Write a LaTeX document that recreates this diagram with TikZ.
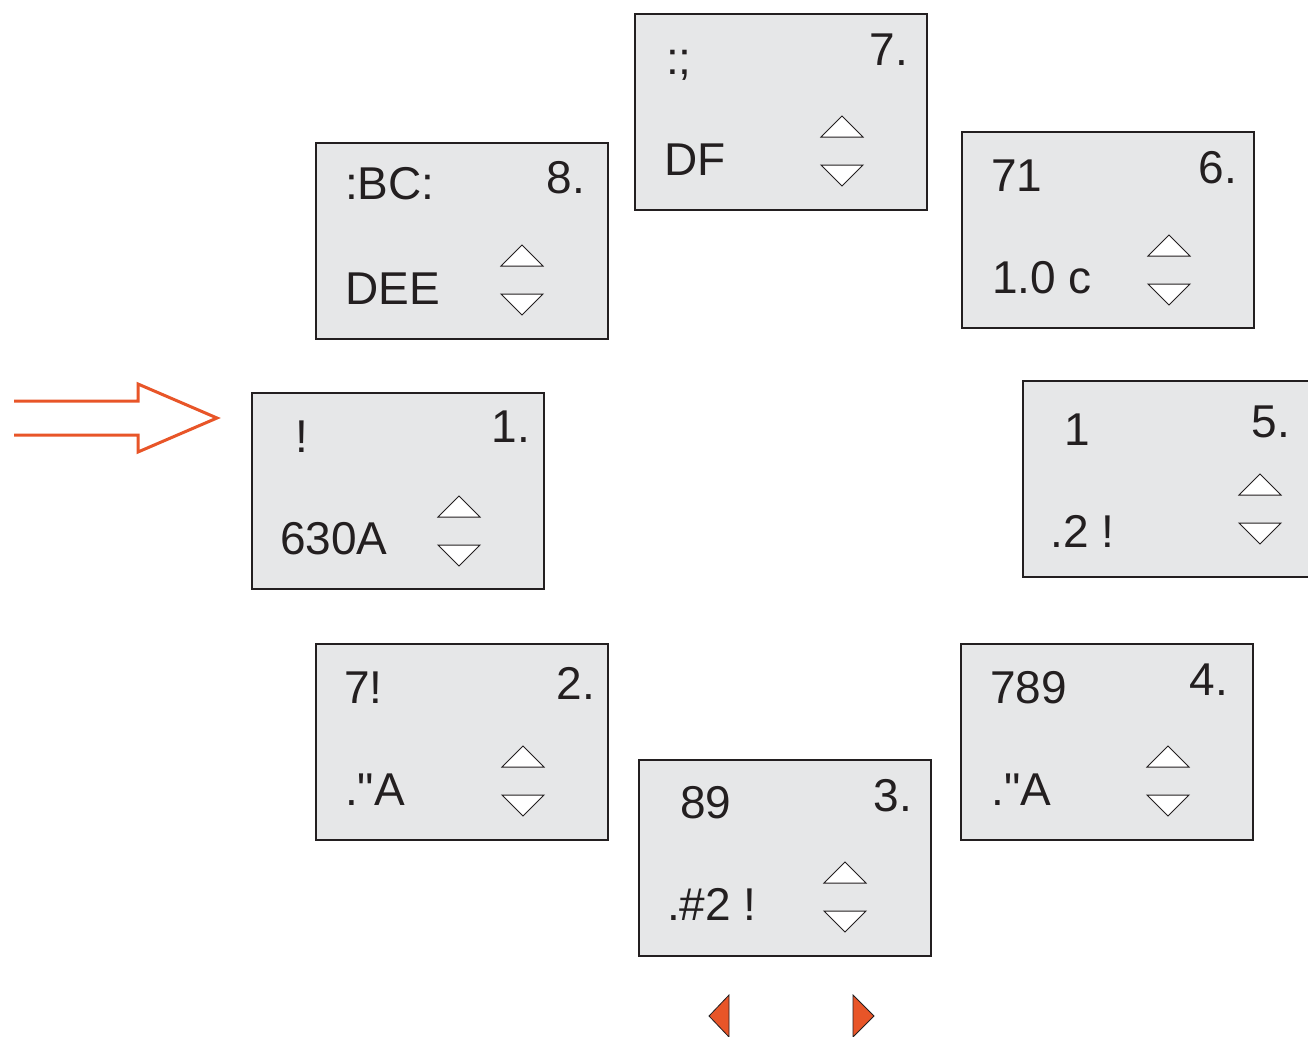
\documentclass[tikz,border=0pt]{standalone}
\usepackage{fontspec}
\setmainfont{Liberation Sans}[Ligatures=TeXOff]
\definecolor{panelgray}{RGB}{230,231,232}
\definecolor{signal}{RGB}{232,85,40}
\definecolor{edge}{RGB}{35,31,32}
\tikzset{
  panel/.style={draw=edge, line width=1.5pt, fill=panelgray, anchor=north west,
    minimum width=292pt, minimum height=196pt, inner sep=0pt},
  lbl/.style={anchor=base west, inner sep=0pt, text=edge,
    font=\fontsize{46}{46}\selectfont},
  num/.style={anchor=base east, inner sep=0pt, text=edge,
    font=\fontsize{46}{46}\selectfont},
  keytri/.style={draw=edge, line width=1pt, fill=white, line join=miter},
  bigarrow/.style={draw=signal, line width=3pt, line join=miter},
  stepper/.style={draw=edge, line width=0.8pt, fill=signal}
}
% up/down key pair: centre x, top of the up key
\newcommand\updownkeys[2]{%
  \draw[keytri] (#1-21,#2+21) -- (#1,#2) -- (#1+21,#2+21) -- cycle;
  \draw[keytri] (#1-21,#2+49) -- (#1+21,#2+49) -- (#1,#2+70) -- cycle;
}
\begin{document}
\begin{tikzpicture}[x=1pt,y=-1pt]
\clip (0,0) rectangle (1308,1036);
\fill[white] (0,0) rectangle (1308,1036);

% panel 1
\begin{scope}[shift={(251,392)}]
  \node[panel] (p1) at (0,0) {};
  \node[lbl] (p1t) at (44,60) {!};
  \node[num] (p1n) at (279,50) {1.};
  \node[lbl] (p1v) at (29,162) {630A};
  \updownkeys{208}{104}
\end{scope}

% panel 2
\begin{scope}[shift={(315,643)}]
  \node[panel] (p2) at (0,0) {};
  \node[lbl] (p2t) at (29,60) {7!};
  \node[num] (p2n) at (280,56) {2.};
  \node[lbl] (p2v) at (30,162) {."A};
  \updownkeys{208}{103}
\end{scope}

% panel 3
\begin{scope}[shift={(638,759)}]
  \node[panel] (p3) at (0,0) {};
  \node[lbl] (p3t) at (42,59) {89};
  \node[num] (p3n) at (274,52) {3.};
  \node[lbl] (p3v) at (29,161) {.\#2 !};
  \updownkeys{207}{103}
\end{scope}

% panel 4
\begin{scope}[shift={(960,643)}]
  \node[panel] (p4) at (0,0) {};
  \node[lbl] (p4t) at (30,60) {789};
  \node[num] (p4n) at (268,52) {4.};
  \node[lbl] (p4v) at (31,162) {."A};
  \updownkeys{208}{103}
\end{scope}

% panel 5
\begin{scope}[shift={(1022,380)}]
  \node[panel, minimum width=300pt] (p5) at (0,0) {};
  \node[lbl] (p5t) at (42,65) {1};
  \node[num] (p5n) at (268,57) {5.};
  \node[lbl] (p5v) at (28,167) {.2 !};
  \updownkeys{238}{94}
\end{scope}

% panel 6
\begin{scope}[shift={(961,131)}]
  \node[panel] (p6) at (0,0) {};
  \node[lbl] (p6t) at (30,60) {71};
  \node[num] (p6n) at (276,52) {6.};
  \node[lbl] (p6v) at (31,162) {1.0 c};
  \updownkeys{208}{104}
\end{scope}

% panel 7
\begin{scope}[shift={(634,13)}]
  \node[panel] (p7) at (0,0) {};
  \node[lbl] (p7t) at (32,61) {:;};
  \node[num] (p7n) at (274,52) {7.};
  \node[lbl] (p7v) at (30,162) {DF};
  \updownkeys{208}{103}
\end{scope}

% panel 8
\begin{scope}[shift={(315,142)}]
  \node[panel] (p8) at (0,0) {};
  \node[lbl] (p8t) at (30,57) {:BC:};
  \node[num] (p8n) at (270,51) {8.};
  \node[lbl] (p8v) at (30,162) {DEE};
  \updownkeys{207}{103}
\end{scope}

% entry arrow (outline)
\draw[bigarrow] (14,401) -- (138,401) -- (138,384) -- (217,418)
  -- (138,452) -- (138,435) -- (14,435);

% step buttons
\draw[stepper] (729,995) -- (729,1037) -- (709,1016) -- cycle;
\draw[stepper] (853,995) -- (853,1037) -- (874,1016) -- cycle;
\end{tikzpicture}
\end{document}
